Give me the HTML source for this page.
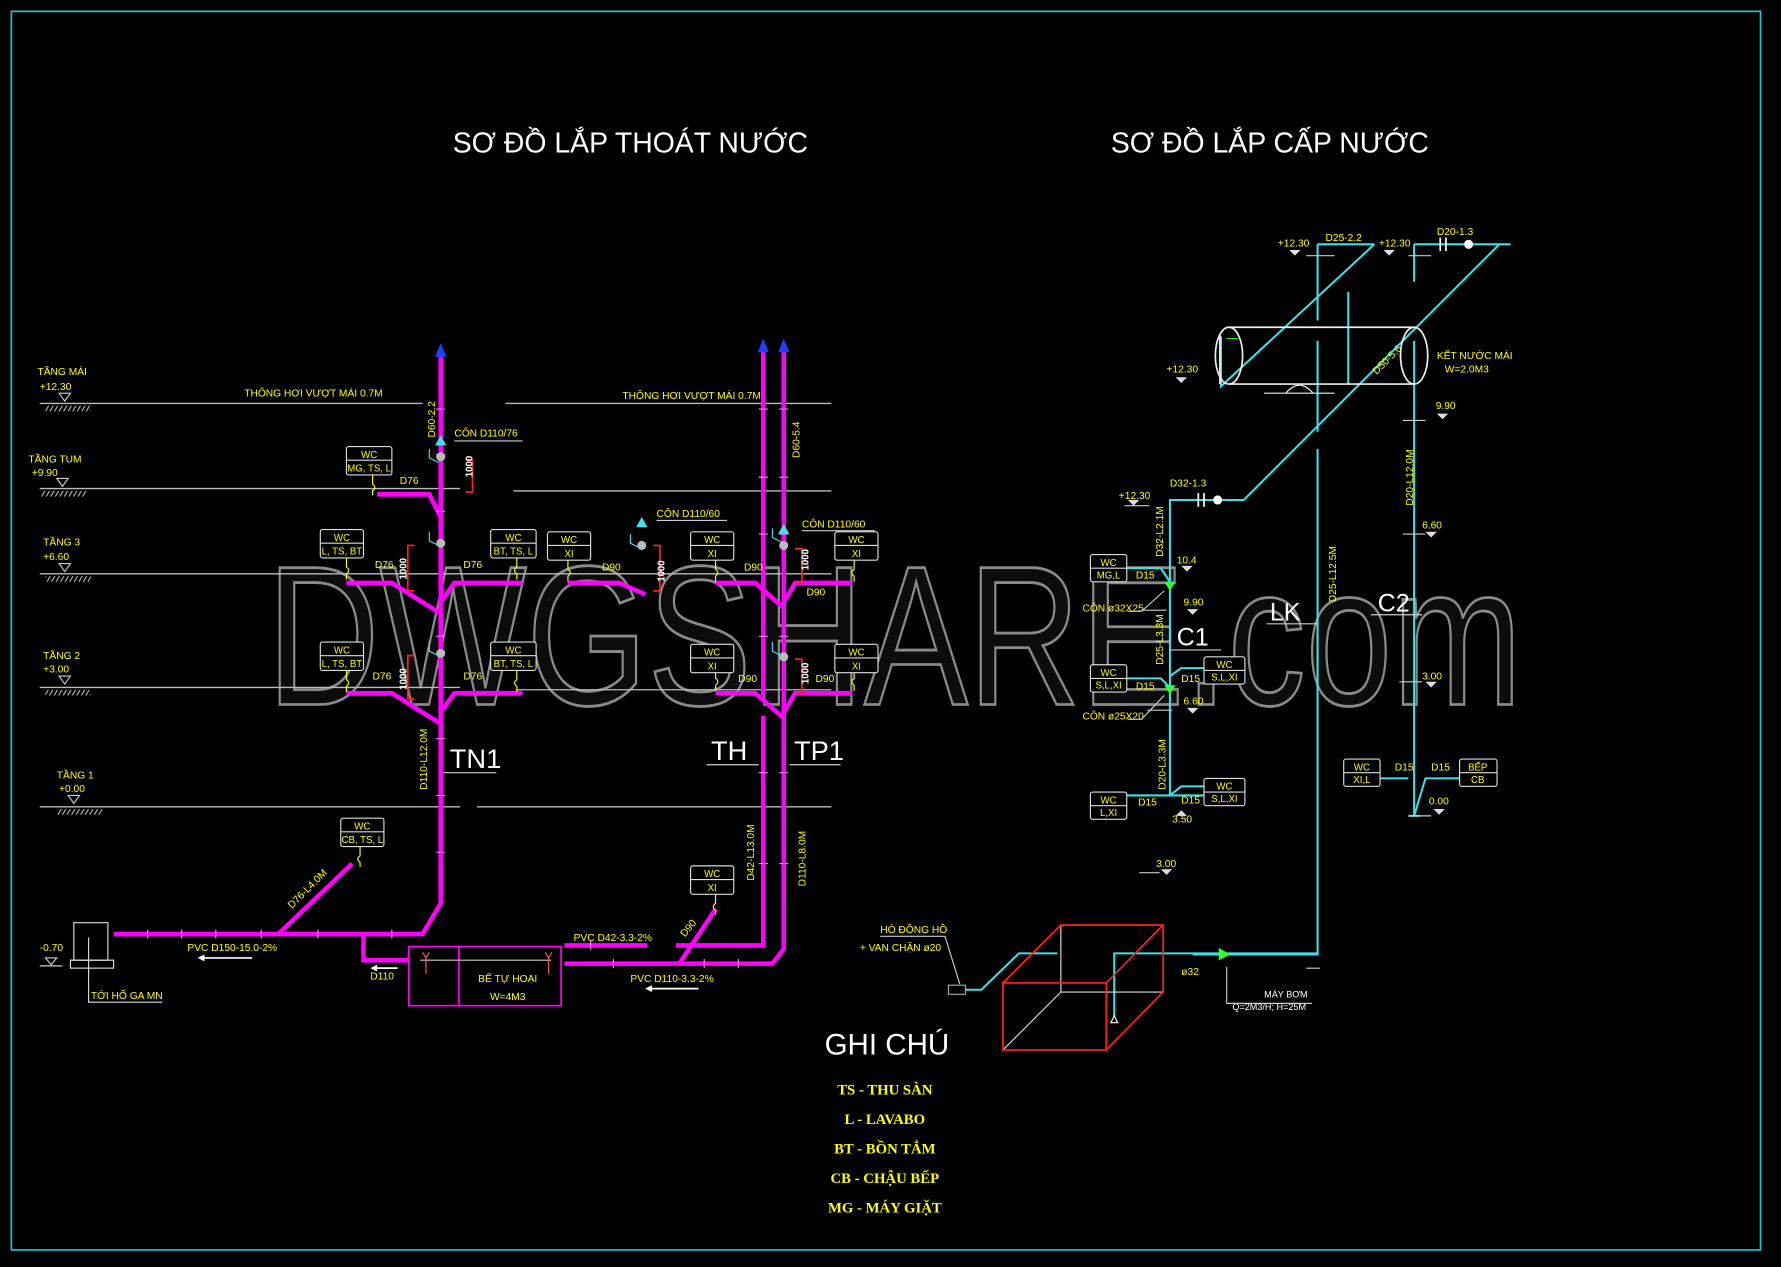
<!DOCTYPE html>
<html><head><meta charset="utf-8"><style>
html,body{margin:0;padding:0;background:#000;width:1781px;height:1267px;overflow:hidden}
svg{display:block}
text{font-family:"Liberation Sans",sans-serif}
.y{fill:#ffff00;font-size:9px}
.w{fill:#fff}
.lvl{stroke:#bbb;stroke-width:1.2}
.mp{stroke:#ff00ff;stroke-width:4;fill:none}
.cp{stroke:#40e0e8;stroke-width:1.8;fill:none}
.box{fill:#000;stroke:#ddd;stroke-width:1}
.bt{fill:#ffff00;font-size:8.5px;text-anchor:middle}
.red{stroke:#ff2020;stroke-width:1.5;fill:none}
.lg{font-family:"Liberation Serif",serif;font-weight:bold;fill:#ffff00;font-size:13px;text-anchor:middle}
</style></head><body>
<svg width="1781" height="1267" viewBox="0 0 1568 1115" preserveAspectRatio="none" xmlns="http://www.w3.org/2000/svg">
<defs>
<pattern id="h" width="4" height="6" patternUnits="userSpaceOnUse" patternTransform="skewX(-30)"><line x1="1" y1="0" x2="1" y2="6" stroke="#ccc" stroke-width="1"/></pattern>
</defs>
<rect x="0" y="0" width="1568" height="1115" fill="#000"/>
<rect x="10" y="10" width="1540" height="1090" fill="none" stroke="#20c0d0" stroke-width="1.5"/>

<!-- watermark -->
<text x="235" y="620" font-size="175" textLength="1105" lengthAdjust="spacingAndGlyphs" fill="#0c0c0c" stroke="#8a8a8a" stroke-width="2.5" font-family="Liberation Sans">DWGSHARE.com</text>

<!-- titles -->
<text x="555" y="134" font-size="25" fill="#fff" text-anchor="middle">SƠ ĐỒ LẮP THOÁT NƯỚC</text>
<text x="1118" y="134" font-size="25" fill="#fff" text-anchor="middle">SƠ ĐỒ LẮP CẤP NƯỚC</text>

<!-- level lines -->
<g class="lvl">
<line x1="35" y1="355" x2="372" y2="355"/><line x1="445" y1="355" x2="732" y2="355"/>
<line x1="35" y1="430" x2="405" y2="430"/><line x1="452" y1="432" x2="732" y2="432"/>
<line x1="35" y1="505" x2="732" y2="505"/>
<line x1="35" y1="605" x2="405" y2="605"/><line x1="455" y1="607" x2="732" y2="607"/>
<line x1="35" y1="710" x2="405" y2="710"/><line x1="420" y1="710" x2="732" y2="710"/>
</g>
<g class="y">
<text x="33" y="330">TẦNG MÁI</text><text x="35" y="343">+12.30</text>
<text x="25" y="407">TẦNG TUM</text><text x="28" y="419">+9.90</text>
<text x="38" y="480">TẦNG 3</text><text x="38" y="493">+6.60</text>
<text x="38" y="580">TẦNG 2</text><text x="38" y="592">+3.00</text>
<text x="50" y="685">TẦNG 1</text><text x="52" y="697">+0.00</text>
<text x="215" y="349">THÔNG HƠI VƯỢT MÁI 0.7M</text>
<text x="548" y="351">THÔNG HƠI VƯỢT MÁI 0.7M</text>
</g>
<g fill="none" stroke="#ccc">
<path d="M52 346 h10 l-5 7z"/><rect x="40" y="357" width="40" height="5" fill="url(#h)" stroke="none"/>
<path d="M50 421 h10 l-5 7z"/><rect x="36" y="432" width="40" height="5" fill="url(#h)" stroke="none"/>
<path d="M52 496 h10 l-5 7z"/><rect x="40" y="507" width="40" height="5" fill="url(#h)" stroke="none"/>
<path d="M52 595 h10 l-5 7z"/><rect x="40" y="607" width="40" height="5" fill="url(#h)" stroke="none"/>
<path d="M60 700 h10 l-5 7z"/><rect x="50" y="712" width="40" height="5" fill="url(#h)" stroke="none"/>
</g>

<!-- drainage stacks -->
<g class="mp">
<path d="M388 312 V795 L372 822 H100"/>
<path d="M672 308 V612 M672 630 V832 H595 M570 832 H497"/>
<path d="M690 308 V835 L680 848 H497"/>
<path d="M245 822 L310 760"/>
<path d="M320 822 V845 H360"/>
<path d="M598 848 L630 800"/>
<!-- tum -->
<path d="M332 435 H378 L388 455"/>
<!-- t3 -->
<path d="M305 513 H345 L388 540 M460 513 H400 L388 530"/>
<path d="M500 513 H545 L568 523"/>
<path d="M630 513 H665 L690 535 M750 513 H700 L690 530"/>
<!-- t2 -->
<path d="M305 610 H345 L388 637 M460 610 H400 L388 627"/>
<path d="M630 610 H665 L690 632 M750 610 H700 L690 627"/>
</g>
<g fill="#2040ff"><path d="M383 314 L388 302 L393 314z"/><path d="M667 310 L672 298 L677 310z"/><path d="M685 310 L690 298 L695 310z"/></g>
<g stroke="#ff80ff" stroke-width="1">
<path d="M384 360h8M384 400h8M384 450h8M384 560h8M384 650h8M384 700h8M384 750h8M668 360h8M668 420h8M668 470h8M668 560h8M668 680h8M668 760h8M686 360h8M686 420h8M686 470h8M686 560h8M686 680h8M686 760h8M130 818v8M160 818v8M190 818v8M230 818v8M280 818v8M345 818v8M520 828v8M540 844v8M620 844v8M650 844v8"/>
</g>
<!-- septic -->
<rect x="360" y="833" width="134" height="52" fill="none" stroke="#ff00ff" stroke-width="1.5"/>
<line x1="404" y1="833" x2="404" y2="885" stroke="#ff00ff" stroke-width="1.5"/>
<line x1="370" y1="845" x2="485" y2="845" stroke="#ccc"/>
<path d="M372 838 l3 5 l3 -5 M375 843v14 M480 838 l3 5 l3 -5 M483 843v14" stroke="#ff6060" fill="none"/>
<text x="447" y="864" class="y" text-anchor="middle">BỂ TỰ HOẠI</text>
<text x="447" y="880" class="y" text-anchor="middle">W=4M3</text>
<!-- ga -->
<rect x="65" y="812" width="30" height="33" fill="none" stroke="#ddd"/>
<rect x="62" y="845" width="38" height="7" fill="none" stroke="#ddd"/>
<path d="M78 825 V882 H143" stroke="#ddd" fill="none"/>
<path d="M40 843 h10 l-5 6z" stroke="#ccc" fill="none"/><line x1="35" y1="850" x2="55" y2="850" stroke="#ccc"/>
<g class="y">
<text x="35" y="837">-0.70</text>
<text x="80" y="879">TỚI HỐ GA MN</text>
<text x="165" y="837">PVC D150-15.0-2%</text>
<text x="326" y="862">D110</text>
<text x="505" y="828">PVC D42-3.3-2%</text>
<text x="555" y="864">PVC D110-3.3-2%</text>
<text x="257" y="800" transform="rotate(-45 257 800)">D76-L4.0M</text>
<text x="603" y="825" transform="rotate(-50 603 825)">D90</text>
</g>
<g stroke="#fff" stroke-width="1.5"><path d="M178 843H222M572 870H615M330 852H350"/></g>
<g fill="#fff"><path d="M174 843l6-3v6zM568 870l6-3v6zM326 852l6-3v6z"/></g>

<!-- WC boxes -->
<g>
<rect class="box" x="305" y="393" width="40" height="25" rx="2"/><line x1="305" y1="405" x2="345" y2="405" stroke="#ddd"/><text class="bt" x="325" y="403">WC</text><text class="bt" x="325" y="415">MG, TS, L</text>
<rect class="box" x="282" y="466" width="38" height="25" rx="2"/><line x1="282" y1="478" x2="320" y2="478" stroke="#ddd"/><text class="bt" x="301" y="476">WC</text><text class="bt" x="301" y="488">L, TS, BT</text>
<rect class="box" x="432" y="466" width="40" height="25" rx="2"/><line x1="432" y1="478" x2="472" y2="478" stroke="#ddd"/><text class="bt" x="452" y="476">WC</text><text class="bt" x="452" y="488">BT, TS, L</text>
<rect class="box" x="282" y="565" width="38" height="25" rx="2"/><line x1="282" y1="577" x2="320" y2="577" stroke="#ddd"/><text class="bt" x="301" y="575">WC</text><text class="bt" x="301" y="587">L, TS, BT</text>
<rect class="box" x="432" y="565" width="40" height="25" rx="2"/><line x1="432" y1="577" x2="472" y2="577" stroke="#ddd"/><text class="bt" x="452" y="575">WC</text><text class="bt" x="452" y="587">BT, TS, L</text>
<rect class="box" x="482" y="468" width="38" height="25" rx="2"/><line x1="482" y1="480" x2="520" y2="480" stroke="#ddd"/><text class="bt" x="501" y="478">WC</text><text class="bt" x="501" y="490">XI</text>
<rect class="box" x="608" y="468" width="38" height="25" rx="2"/><line x1="608" y1="480" x2="646" y2="480" stroke="#ddd"/><text class="bt" x="627" y="478">WC</text><text class="bt" x="627" y="490">XI</text>
<rect class="box" x="735" y="468" width="38" height="25" rx="2"/><line x1="735" y1="480" x2="773" y2="480" stroke="#ddd"/><text class="bt" x="754" y="478">WC</text><text class="bt" x="754" y="490">XI</text>
<rect class="box" x="608" y="567" width="38" height="25" rx="2"/><line x1="608" y1="579" x2="646" y2="579" stroke="#ddd"/><text class="bt" x="627" y="577">WC</text><text class="bt" x="627" y="589">XI</text>
<rect class="box" x="735" y="567" width="38" height="25" rx="2"/><line x1="735" y1="579" x2="773" y2="579" stroke="#ddd"/><text class="bt" x="754" y="577">WC</text><text class="bt" x="754" y="589">XI</text>
<rect class="box" x="300" y="720" width="38" height="25" rx="2"/><line x1="300" y1="732" x2="338" y2="732" stroke="#ddd"/><text class="bt" x="319" y="730">WC</text><text class="bt" x="319" y="742">CB, TS, L</text>
<rect class="box" x="608" y="762" width="38" height="25" rx="2"/><line x1="608" y1="774" x2="646" y2="774" stroke="#ddd"/><text class="bt" x="627" y="772">WC</text><text class="bt" x="627" y="784">XI</text>
</g>
<g stroke="#ffff00" fill="none" stroke-width="1">
<path d="M328 418 v8 q4 3 0 6 v4M305 491v8q4 3 0 6v5M455 491v8q-4 3 0 6v5M500 493v8q4 3 0 6v5M630 493v8q4 3 0 6v5M752 493v8q-4 3 0 6v5M305 590v8q4 3 0 6v5M455 590v8q-4 3 0 6v5M630 592v5q4 3 0 6v5M752 592v5q-4 3 0 6v5M317 745v8q-4 3 0 6v4M630 787v8q-4 3 0 6v4"/>
</g>
<!-- vents, cones -->
<g fill="#40e0f0"><path d="M383 392 l5 -9 l5 9z"/><path d="M560 464 l5 -9 l5 9z"/><path d="M685 470 l5 -9 l5 9z"/></g>
<g fill="#bbb"><circle cx="388" cy="402" r="4"/><circle cx="388" cy="478" r="4"/><circle cx="388" cy="575" r="4"/><circle cx="565" cy="480" r="4"/><circle cx="690" cy="480" r="4"/><circle cx="690" cy="578" r="4"/></g>
<g stroke="#40e0f0" fill="none"><path d="M378 395v8l8 4M378 468v8l8 4M378 565v8l8 4M555 470v8l8 4M680 465v8l8 4M680 565v8l8 4"/></g>
<g class="red"><path d="M410 405h6v28h-6M365 480h-6v40h6M365 577h-6v38h6M575 480h6v40h-6M700 483h6v30h-6M700 580h6v30h-6"/></g>
<g fill="#fff" font-size="8.5" font-weight="bold">
<text x="0" y="0" transform="translate(416 420) rotate(-90)">1000</text>
<text x="0" y="0" transform="translate(358 510) rotate(-90)">1000</text>
<text x="0" y="0" transform="translate(358 607) rotate(-90)">1000</text>
<text x="0" y="0" transform="translate(585 512) rotate(-90)">1000</text>
<text x="0" y="0" transform="translate(712 502) rotate(-90)">1000</text>
<text x="0" y="0" transform="translate(712 602) rotate(-90)">1000</text>
</g>
<g class="y">
<text x="400" y="384">CÔN D110/76</text><text x="578" y="455">CÔN D110/60</text><text x="706" y="464">CÔN D110/76</text>
<text x="352" y="426">D76</text><text x="330" y="500">D76</text><text x="408" y="500">D76</text>
<text x="328" y="598">D76</text><text x="408" y="598">D76</text>
<text x="530" y="502">D90</text><text x="655" y="502">D90</text><text x="710" y="524">D90</text>
<text x="650" y="600">D90</text><text x="718" y="600">D90</text>
<text transform="translate(383 385) rotate(-90)">D60-2.2</text>
<text transform="translate(704 403) rotate(-90)">D60-5.4</text>
<text transform="translate(376 695) rotate(-90)">D110-L12.0M</text>
<text transform="translate(664 775) rotate(-90)">D42-L13.0M</text>
<text transform="translate(709 780) rotate(-90)">D110-L8.0M</text>
</g>
<g stroke="#ccc"><path d="M400 388H460M578 458H640M706 467H770M390 680H437M622 673H668M695 673H740"/></g>
<text x="1" y="0" class="w" font-size="0"></text>
<g fill="#fff" font-size="24"><text x="396" y="676">TN1</text><text x="626" y="669">TH</text><text x="699" y="669">TP1</text></g>
<!-- fix CÔN D110/60 label on right -->
<rect x="704" y="455" width="70" height="11" fill="#000"/>
<text x="706" y="464" class="y">CÔN D110/60</text>

<!-- supply -->
<g class="cp">
<path d="M1160 215H1210 M1160 215V282 M1160 300V380 M1160 395V840H1075 M1075 840 L1050 840"/>
<path d="M1210 215 L1075 340 V296"/>
<path d="M1245 215H1330 M1245 215V248 M1245 300V718 M1240 718H1250"/>
<path d="M1320 215 L1095 440 H1030 V700 H1060 M1030 700 H992"/>
<path d="M1187 257V338"/>
<path d="M992 500 H1022 L1030 512 M992 597 H1022 L1030 605 M1030 595 L1040 588 H1060 M1030 700 L1040 692 H1060"/>
<path d="M1215 685 H1240 M1245 718 L1255 685 H1285"/>
<path d="M981 895 V839 H1161 M850 871 H864 L897 839 H931"/>
</g>
<!-- tank -->
<g fill="none" stroke="#eee" stroke-width="1.5">
<ellipse cx="1082" cy="313" rx="12" ry="25"/><ellipse cx="1245" cy="313" rx="12" ry="25"/>
<path d="M1082 288H1245M1082 338H1245M1074 295V338"/>
<path d="M1113 346H1175M1132 346 q12 -14 24 0" stroke-width="1"/>
</g>
<path d="M1080 298 h10" stroke="#20ff20"/>
<g stroke="#fff" stroke-width="1.5"><path d="M1055 434v12M1060 434v12M1268 209v12M1273 209v12"/></g>
<g fill="#fff"><circle cx="1072" cy="440" r="4"/><circle cx="1293" cy="215" r="4"/></g>
<g fill="#30ff30"><path d="M1025 512h10l-5 8z"/><path d="M1025 603h10l-5 8z"/><path d="M1073 834v11l10 -5z"/></g>
<g class="y">
<text x="1125" y="217">+12.30</text><text x="1167" y="212">D25-2.2</text><text x="1214" y="217">+12.30</text><text x="1265" y="207">D20-1.3</text>
<text x="1027" y="328">+12.30</text><text x="1265" y="316">KẾT NƯỚC MÁI</text><text x="1272" y="328">W=2.0M3</text>
<text x="1264" y="360">9.90</text><text x="1252" y="465">6.60</text><text x="1252" y="598">3.00</text><text x="1258" y="708">0.00</text>
<text x="985" y="439">+12.30</text><text x="1030" y="428">D32-1.3</text>
<text x="1036" y="496">10.4</text><text x="1042" y="533">9.90</text><text x="1042" y="620">6.60</text><text x="1032" y="724">3.50</text><text x="1018" y="763">3.00</text>
<text x="1000" y="509">D15</text><text x="1000" y="607">D15</text><text x="1040" y="600">D15</text><text x="1002" y="709">D15</text><text x="1040" y="707">D15</text>
<text x="1228" y="678">D15</text><text x="1260" y="678">D15</text>
<text x="953" y="538">CÔN ø32X25</text><text x="953" y="633">CÔN ø25X20</text>
<text transform="translate(1212 330) rotate(-45)">D50-5.6</text>
<text transform="translate(1176 530) rotate(-90)">D25-L12.5M</text>
<text transform="translate(1244 445) rotate(-90)">D20-L12.0M</text>
<text transform="translate(1024 490) rotate(-90)">D32-L2.1M</text>
<text transform="translate(1024 585) rotate(-90)">D25-L3.3M</text>
<text transform="translate(1026 695) rotate(-90)">D20-L3.3M</text>
<text x="775" y="821">HÓ ĐỒNG HỒ</text><text x="757" y="837">+ VAN CHẶN ø20</text>
<text x="1040" y="858">ø32</text>
</g>
<g fill="#fff" font-size="8"><text x="1113" y="878">MÁY BƠM</text><text x="1085" y="889">Q=2M3/H; H=25M</text></g>
<g stroke="#ccc" fill="none"><path d="M993 538 H1005 L1025 520 M993 633 H1005 L1025 612 M1080 883 V851 M1080 883 H1155 M775 824 H832 L845 866 M1162 852 H1150"/></g>
<g stroke="#ccc"><path d="M1150 225h25M1240 225h20M990 445h22M1235 370h20M1235 470h20M1232 600h20M1240 718h20M1005 537h22M1010 625h22M1003 768h18"/></g>
<g fill="#ddd"><path d="M1135 220h10l-5 5zM1218 220h10l-5 5zM1035 332h10l-5 5zM1265 364h10l-5 5zM1255 468h10l-5 5zM1255 600h10l-5 5zM1262 712h10l-5 5zM993 440h10l-5 5zM1040 498h10l-5 5zM1045 536h10l-5 5zM1045 623h10l-5 5zM1035 718h10l-5 -5zM1022 765h10l-5 5z"/></g>
<!-- supply boxes -->
<g>
<rect class="box" x="960" y="488" width="32" height="24" rx="2"/><line x1="960" y1="500" x2="992" y2="500" stroke="#ddd"/><text class="bt" x="976" y="498">WC</text><text class="bt" x="976" y="509">MG,L</text>
<rect class="box" x="960" y="585" width="32" height="24" rx="2"/><line x1="960" y1="597" x2="992" y2="597" stroke="#ddd"/><text class="bt" x="976" y="595">WC</text><text class="bt" x="976" y="606">S,L,XI</text>
<rect class="box" x="1060" y="578" width="36" height="24" rx="2"/><line x1="1060" y1="590" x2="1096" y2="590" stroke="#ddd"/><text class="bt" x="1078" y="588">WC</text><text class="bt" x="1078" y="599">S,L,XI</text>
<rect class="box" x="960" y="697" width="32" height="24" rx="2"/><line x1="960" y1="709" x2="992" y2="709" stroke="#ddd"/><text class="bt" x="976" y="707">WC</text><text class="bt" x="976" y="718">L,XI</text>
<rect class="box" x="1060" y="685" width="36" height="24" rx="2"/><line x1="1060" y1="697" x2="1096" y2="697" stroke="#ddd"/><text class="bt" x="1078" y="695">WC</text><text class="bt" x="1078" y="706">S,L,XI</text>
<rect class="box" x="1183" y="668" width="32" height="24" rx="2"/><line x1="1183" y1="680" x2="1215" y2="680" stroke="#ddd"/><text class="bt" x="1199" y="678">WC</text><text class="bt" x="1199" y="689">XI,L</text>
<rect class="box" x="1285" y="668" width="33" height="24" rx="2"/><line x1="1285" y1="680" x2="1318" y2="680" stroke="#ddd"/><text class="bt" x="1301" y="678">BẾP</text><text class="bt" x="1301" y="689">CB</text>
</g>
<g fill="#fff" font-size="22"><text x="1118" y="546">LK</text><text x="1036" y="568">C1</text><text x="1213" y="538">C2</text></g>
<g stroke="#ccc"><path d="M1115 549H1160M1030 572H1075M1207 541H1252"/></g>
<!-- red box -->
<g fill="none">
<path d="M934 814 V873 H1024 M934 873 L883 924" stroke="#ddd"/>
<rect x="883" y="865" width="91" height="59" stroke="#ff2020" stroke-width="1.5"/>
<path d="M883 865 L934 814 H1024 V873 L974 924 M974 865 L1024 814" stroke="#ff2020" stroke-width="1.5"/>
<path d="M978 900 l3 -6 l3 6z" stroke="#fff"/>
<rect x="835" y="867" width="15" height="8" stroke="#aaa"/>
</g>
<text x="726" y="928" font-size="26" fill="#fff">GHI CHÚ</text>
<text class="lg" x="779" y="963">TS - THU SÀN</text>
<text class="lg" x="779" y="989">L - LAVABO</text>
<text class="lg" x="779" y="1015">BT - BỒN TẮM</text>
<text class="lg" x="779" y="1041">CB - CHẬU BẾP</text>
<text class="lg" x="779" y="1067">MG - MÁY GIẶT</text>
</svg>
</body></html>
